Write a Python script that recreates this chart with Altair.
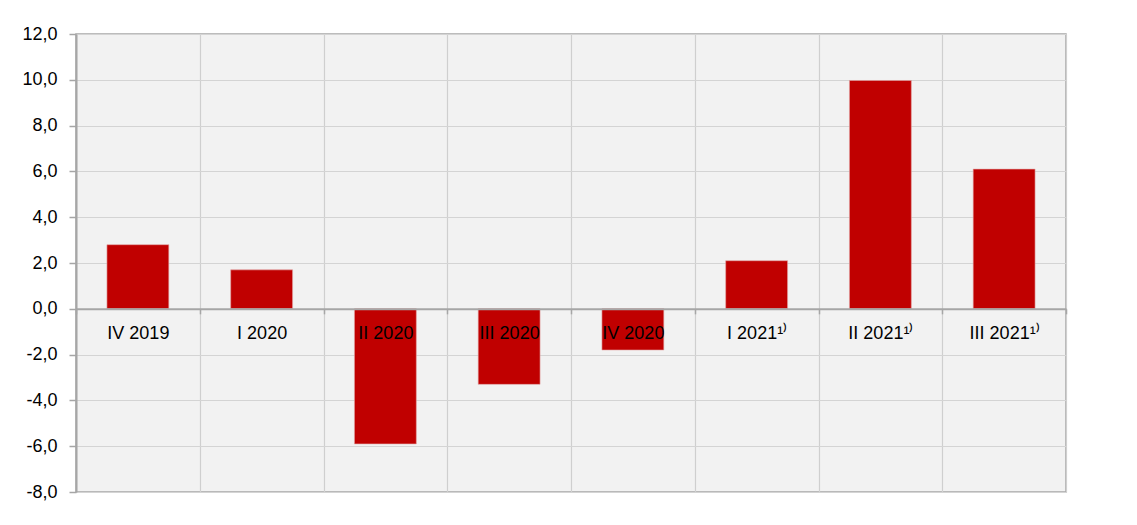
import altair as alt
import pandas as pd

categories = ["IV 2019", "I 2020", "II 2020", "III 2020", "IV 2020",
              "I 2021¹⁾", "II 2021¹⁾", "III 2021¹⁾"]
values = [2.8, 1.7, -5.9, -3.3, -1.8, 2.1, 9.97, 6.1]
y_ticks = [-8, -6, -4, -2, 0, 2, 4, 6, 8, 10, 12]

df = pd.DataFrame({"q": categories, "v": values})

FONT = "Liberation Sans Narrow, Arial Narrow, Liberation Sans, Arial"
W, H = 990, 458
zero_offset = -(H - H * 12 / 20)

x_scale = alt.Scale(paddingInner=0, paddingOuter=0)
y_scale = alt.Scale(domain=[-8, 12], nice=False, zero=False)

label_expr = "(datum.value < 0 ? '-' : '') + replace(format(abs(datum.value), '.1f'), '.', ',')"

bars = alt.Chart(df).mark_bar(
    width=alt.RelativeBandSize(0.5), color="#C00000",
    stroke="#e3a6a6", strokeWidth=0.6
).encode(
    x=alt.X("q:N", sort=categories, scale=x_scale, title=None,
            axis=alt.Axis(orient="bottom", offset=zero_offset, grid=False,
                          tickBand="extent", tickSize=5, tickColor="#a6a6a6",
                          tickWidth=1.5, domainColor="#a6a6a6", domainWidth=2,
                          labelAngle=0, labelFont=FONT, labelFontSize=18,
                          labelColor="#000000", labelPadding=11, zindex=1)),
    y=alt.Y("v:Q", scale=y_scale, title=None,
            axis=alt.Axis(values=y_ticks, labelExpr=label_expr, grid=True,
                          gridColor="#d4d4d4", gridWidth=1, domainColor="#a6a6a6",
                          domainWidth=2, tickColor="#a6a6a6", tickSize=7,
                          tickWidth=1.5, labelFont=FONT, labelFontSize=18,
                          labelColor="#000000", labelPadding=12)),
)

grid = alt.Chart(df).mark_bar(opacity=0).encode(
    x=alt.X("q:N", sort=categories, scale=x_scale, title=None,
            axis=alt.Axis(orient="top", grid=True, tickBand="extent",
                          gridColor="#cfcfcf", gridWidth=1.2, labels=False,
                          ticks=False, domain=False)),
    y=alt.Y("v:Q", scale=y_scale, axis=None),
)

chart = alt.layer(grid, bars).resolve_axis(x="independent", y="independent").properties(
    width=W, height=H,
    autosize=alt.AutoSizeParams(type="none"),
    padding={"left": 68, "top": 26, "right": 10, "bottom": 20},
    background="#ffffff",
).configure_view(fill="#f2f2f2", stroke="#a6a6a6", strokeWidth=1.5)

chart.save("out.html", embed_options={"renderer": "svg", "actions": False})
